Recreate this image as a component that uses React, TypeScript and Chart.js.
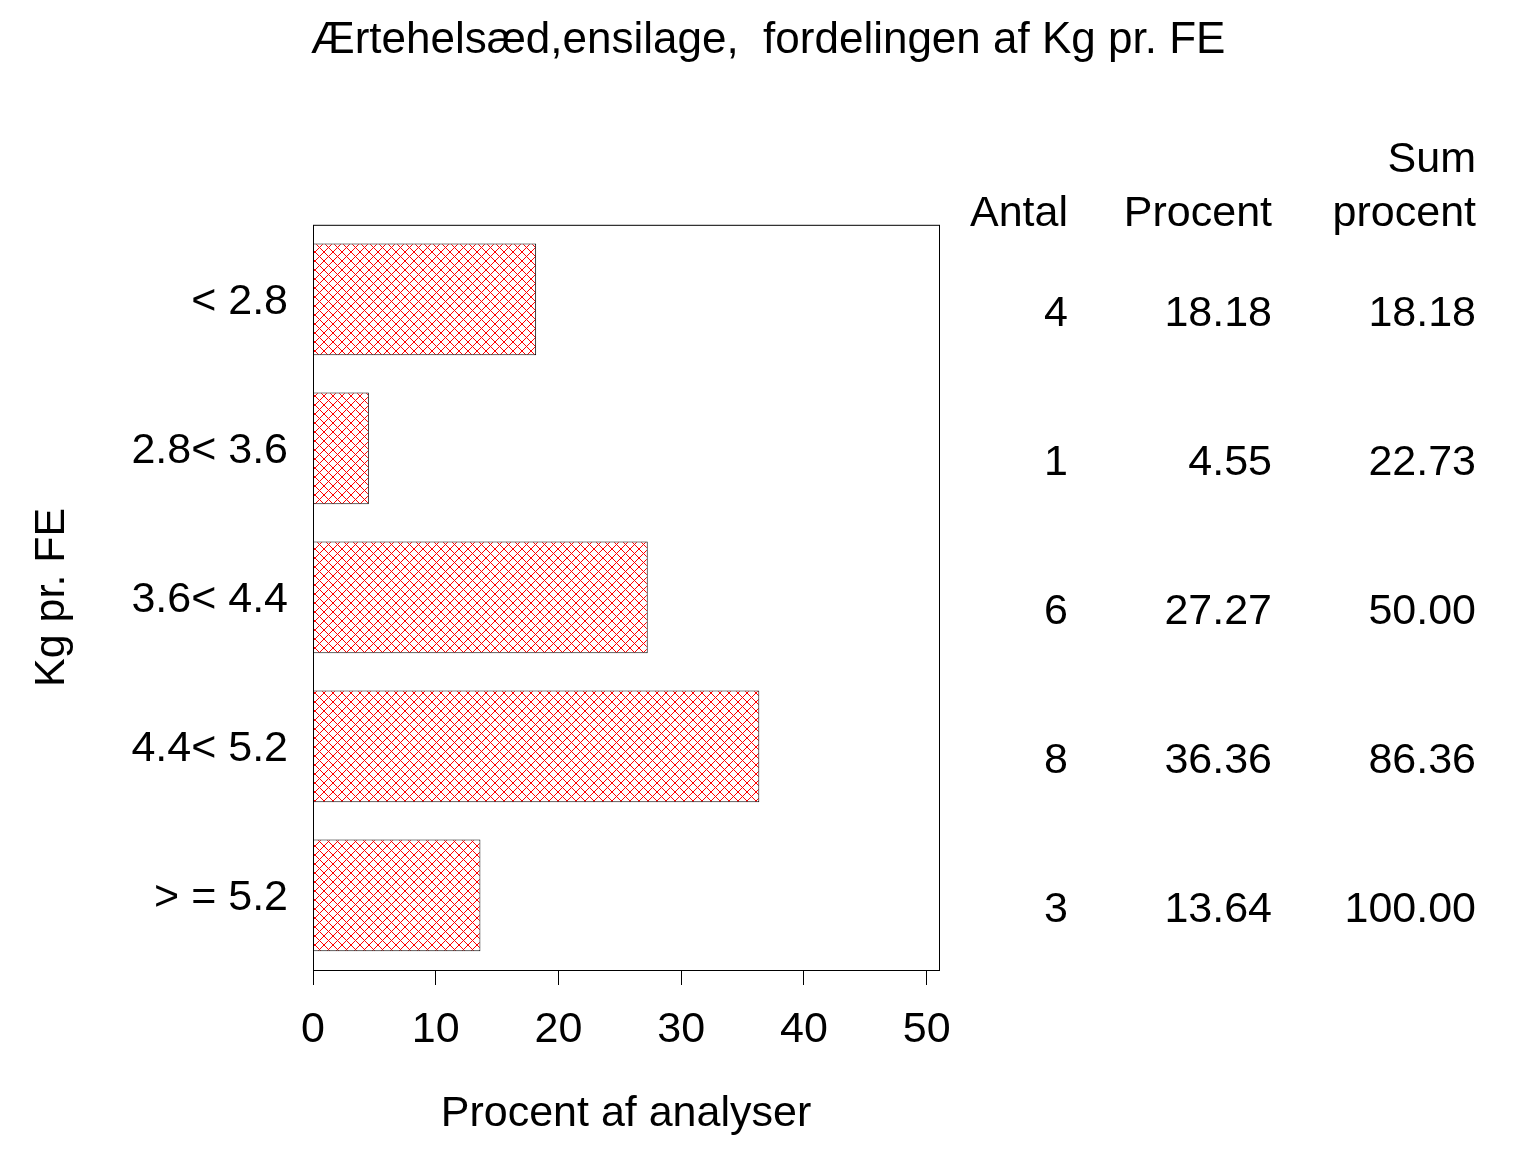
import { useEffect, useRef } from "react";
import { Chart, registerables } from "chart.js";

Chart.register(...registerables);

const categories = ["< 2.8", "2.8< 3.6", "3.6< 4.4", "4.4< 5.2", "> = 5.2"];
const antal = [4, 1, 6, 8, 3];
const procent = [18.18, 4.55, 27.27, 36.36, 13.64];
const sumProcent = [18.18, 22.73, 50.0, 86.36, 100.0];
const xTicks = [0, 10, 20, 30, 40, 50];

const FONT = "'Liberation Sans', Arial, Helvetica, sans-serif";
const big = { family: FONT, size: 43 };

// crosshatch fill like the SAS pattern
function makeHatch() {
  const c = document.createElement("canvas");
  c.width = 9;
  c.height = 9;
  const g = c.getContext("2d")!;
  g.fillStyle = "#fff";
  g.fillRect(0, 0, 9, 9);
  g.fillStyle = "#ff0000";
  for (let i = 0; i < 9; i++) {
    g.fillRect(i, i, 1, 1);
    g.fillRect(8 - i, i, 1, 1);
  }
  return g.createPattern(c, "repeat")!;
}

const frame = {
  id: "frame",
  afterDatasetsDraw(chart: any) {
    const { ctx, chartArea: a } = chart;
    ctx.save();
    ctx.strokeStyle = "#000";
    ctx.lineWidth = 1;
    ctx.strokeRect(a.left + 0.5, a.top + 0.5, a.right - a.left, a.bottom - a.top);
    ctx.restore();
  },
};

const table = {
  id: "table",
  afterDraw(chart: any) {
    const { ctx, chartArea: a, scales } = chart;
    const cols = [a.right + 129, a.right + 333, a.right + 537];
    ctx.save();
    ctx.fillStyle = "#000";
    ctx.font = `43px ${FONT}`;
    ctx.textAlign = "right";
    ctx.textBaseline = "alphabetic";
    ctx.fillText("Sum", cols[2], a.top - 53);
    ctx.fillText("Antal", cols[0], a.top + 1);
    ctx.fillText("Procent", cols[1], a.top + 1);
    ctx.fillText("procent", cols[2], a.top + 1);
    ctx.textBaseline = "middle";
    categories.forEach((_, i) => {
      const y = scales.y.getPixelForValue(i) + 15;
      ctx.fillText(String(antal[i]), cols[0], y);
      ctx.fillText(procent[i].toFixed(2), cols[1], y);
      ctx.fillText(sumProcent[i].toFixed(2), cols[2], y);
    });
    ctx.restore();
  },
};

export default function App() {
  const canvasRef = useRef<HTMLCanvasElement>(null);

  useEffect(() => {
    if (!canvasRef.current) return;
    document.body.style.margin = "0";
    Chart.defaults.color = "#000";

    const chart = new Chart(canvasRef.current, {
      type: "bar",
      data: {
        labels: categories,
        datasets: [
          {
            data: procent,
            backgroundColor: makeHatch(),
            borderColor: "#000",
            borderWidth: 1,
            barPercentage: 0.75,
            categoryPercentage: 1,
          },
        ],
      },
      options: {
        indexAxis: "y",
        animation: false,
        responsive: true,
        maintainAspectRatio: false,
        layout: { padding: 0 },
        plugins: {
          legend: { display: false },
          tooltip: { enabled: false },
          title: {
            display: true,
            text: "Ærtehelsæd,ensilage,  fordelingen af Kg pr. FE",
            color: "#000",
            font: { family: FONT, size: 44, weight: "normal" },
            padding: { top: 14, bottom: 158 },
          },
        },
        scales: {
          x: {
            type: "linear",
            position: "bottom",
            min: 0,
            max: 51,
            afterBuildTicks: (ax: any) => {
              ax.ticks = xTicks.map((v) => ({ value: v }));
            },
            afterFit: (ax: any) => {
              ax.height = 182;
            },
            grid: {
              drawOnChartArea: false,
              drawTicks: true,
              tickLength: 15,
              color: "#000",
              lineWidth: 1,
            },
            border: { display: true, color: "#000", width: 1 },
            ticks: { padding: 19, font: big, color: "#000", maxRotation: 0, autoSkip: false },
            title: {
              display: true,
              text: "Procent af analyser",
              color: "#000",
              font: big,
              padding: { top: 0, bottom: 12 },
            },
          },
          y: {
            type: "category",
            position: "left",
            afterFit: (ax: any) => {
              ax.width = 313;
            },
            grid: { display: false, drawTicks: false },
            border: { display: false },
            ticks: { padding: 25, labelOffset: 3, font: big, color: "#000", autoSkip: false },
            title: {
              display: true,
              text: "Kg pr. FE",
              color: "#000",
              font: big,
              padding: { top: 26, bottom: 0 },
            },
          },
          // empty axis that keeps room for the table on the right
          side: {
            type: "category",
            position: "right",
            afterFit: (ax: any) => {
              ax.width = 597;
            },
            grid: { display: false, drawTicks: false },
            border: { display: false },
            ticks: { display: false },
          },
        },
      },
      plugins: [frame, table],
    });

    return () => chart.destroy();
  }, []);

  return (
    <div style={{ position: "absolute", left: 0, top: 0, width: 1536, height: 1152, background: "#fff" }}>
      <canvas ref={canvasRef} />
    </div>
  );
}
